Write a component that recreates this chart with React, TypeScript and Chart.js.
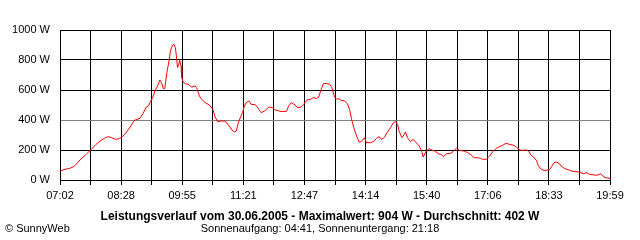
import React, { useEffect, useRef } from "react";
import { Chart, registerables } from "chart.js";

Chart.register(...registerables);

const times: string[] = [
  "07:02","07:09","07:16","07:22","07:27","07:32","07:39","07:46","07:53","08:00",
  "08:06","08:10","08:15","08:20","08:26","08:31","08:36","08:42","08:47","08:55",
  "08:59","09:04","09:07","09:09","09:13","09:16","09:20","09:23","09:26","09:28",
  "09:30","09:33","09:36","09:38","09:41","09:43","09:45","09:47","09:48","09:50",
  "09:51","09:53","09:54","09:56","09:59","10:03","10:08","10:13","10:15","10:19",
  "10:22","10:27","10:33","10:38","10:41","10:45","10:48","10:55","11:00","11:05",
  "11:08","11:11","11:14","11:17","11:20","11:22","11:25","11:29","11:32","11:38",
  "11:42","11:46","11:51","11:57","12:02","12:06","12:11","12:16","12:22","12:25",
  "12:29","12:34","12:38","12:43","12:46","12:51","12:56","13:00","13:04","13:07",
  "13:11","13:14","13:18","13:23","13:26","13:30","13:33","13:36","13:39","13:44",
  "13:48","13:51","13:54","13:57","14:01","14:05","14:09","14:12","14:15","14:21",
  "14:26","14:29","14:33","14:36","14:40","14:44","14:49","14:53","14:56","14:59",
  "15:01","15:05","15:07","15:10","15:13","15:17","15:21","15:25","15:29","15:33",
  "15:35","15:39","15:43","15:48","15:52","15:56","16:00","16:04","16:08","16:13",
  "16:17","16:22","16:26","16:33","16:38","16:43","16:47","16:52","16:56","16:59",
  "17:04","17:09","17:13","17:18","17:23","17:27","17:32","17:37","17:42","17:47",
  "17:51","17:55","18:01","18:04","18:07","18:12","18:15","18:18","18:22","18:26",
  "18:29","18:34","18:37","18:40","18:43","18:47","18:50","18:55","19:00","19:04",
  "19:11","19:18","19:21","19:26","19:30","19:37","19:42","19:46","19:49","19:52",
  "19:59",
];

const watts: number[] = [
  60, 71, 78, 91, 116, 142, 171, 204, 238, 264,
  282, 289, 282, 271, 276, 293, 320, 360, 398, 411,
  442, 487, 493, 516, 549, 593, 627, 667, 642, 609,
  609, 716, 793, 860, 900, 904, 882, 804, 749, 771,
  798, 760, 682, 653, 642, 638, 620, 627, 616, 560,
  538, 516, 500, 471, 420, 387, 393, 393, 367, 333,
  320, 327, 382, 420, 449, 487, 516, 527, 504, 502,
  478, 449, 460, 487, 482, 467, 460, 456, 458, 493,
  516, 500, 482, 487, 504, 533, 538, 549, 544, 549,
  604, 642, 644, 638, 616, 553, 538, 542, 531, 527,
  509, 471, 404, 349, 293, 249, 264, 282, 249, 249,
  260, 278, 289, 271, 282, 316, 349, 382, 389, 371,
  327, 282, 293, 320, 282, 256, 271, 249, 231, 193,
  153, 189, 209, 198, 193, 176, 171, 156, 176, 176,
  189, 211, 198, 193, 182, 167, 149, 149, 144, 138,
  138, 160, 187, 211, 222, 231, 244, 238, 233, 220,
  200, 198, 200, 193, 167, 149, 131, 93, 71, 64,
  64, 71, 93, 116, 120, 111, 93, 76, 69, 60,
  56, 49, 42, 49, 38, 33, 33, 42, 27, 16,
  11,
];

const axisStart = "07:02";
const axisEnd = "19:59";
const gridIntervals = 18;
const yTickValues: number[] = [0, 200, 400, 600, 800, 1000];
const yUnit = "W";

const titleText = "Leistungsverlauf vom 30.06.2005 - Maximalwert: 904 W - Durchschnitt: 402 W";
const subtitleText = "Sonnenaufgang: 04:41, Sonnenuntergang: 21:18";
const creditText = "© SunnyWeb";

const toMin = (s: string) => {
  const [h, m] = s.split(":").map(Number);
  return h * 60 + m;
};
const fmt = (v: number) => {
  const r = Math.round(v);
  return String(Math.floor(r / 60)).padStart(2, "0") + ":" + String(r % 60).padStart(2, "0");
};

const FONT = "'Liberation Sans', Arial, sans-serif";

export default function App() {
  const ref = useRef<HTMLCanvasElement | null>(null);

  useEffect(() => {
    if (!ref.current) return;
    const xMin = toMin(axisStart);
    const xMax = toMin(axisEnd);
    const chart = new Chart(ref.current, {
      type: "line",
      data: {
        datasets: [
          {
            data: times.map((t, i) => ({ x: toMin(t), y: watts[i] })),
            borderColor: "#ff0000",
            borderWidth: 1,
            pointRadius: 0,
            tension: 0,
            fill: false,
          },
        ],
      },
      options: {
        animation: false,
        responsive: false,
        devicePixelRatio: 1,
        layout: { padding: { left: 0, right: 30, top: 30, bottom: 0 } },
        plugins: { legend: { display: false }, tooltip: { enabled: false }, title: { display: false } },
        font: { family: FONT, size: 11 },
        scales: {
          x: {
            type: "linear",
            min: xMin,
            max: xMax,
            afterBuildTicks: (scale: any) => {
              const ticks = [];
              for (let i = 0; i <= gridIntervals; i++) {
                ticks.push({ value: xMin + (i * (xMax - xMin)) / gridIntervals });
              }
              scale.ticks = ticks;
            },
            afterFit: (scale: any) => {
              scale.height = 60;
            },
            ticks: {
              autoSkip: false,
              maxRotation: 0,
              minRotation: 0,
              padding: 4,
              color: "#000000",
              font: { family: FONT, size: 11 },
              callback: (v: any, i: number) => (i % 2 === 0 ? fmt(Number(v)) : ""),
            },
            grid: { color: "#000000", lineWidth: 1, tickLength: 5, drawTicks: true },
            border: { color: "#000000", width: 1 },
          },
          y: {
            min: 0,
            max: 1000,
            afterBuildTicks: (scale: any) => {
              scale.ticks = yTickValues.map((v) => ({ value: v }));
            },
            afterFit: (scale: any) => {
              scale.width = 60;
            },
            ticks: {
              padding: 10,
              color: "#000000",
              font: { family: FONT, size: 11 },
              callback: (v: any) => `${v} ${yUnit}`,
            },
            grid: {
              drawTicks: false,
              lineWidth: 1,
              color: (ctx: any) => (ctx.tick && ctx.tick.value === 400 ? "#808080" : "#000000"),
            },
            border: { color: "#000000", width: 1 },
          },
        },
      },
    } as any);
    return () => chart.destroy();
  }, []);

  const textBase: React.CSSProperties = {
    position: "absolute",
    fontFamily: FONT,
    fontSize: 11,
    lineHeight: "13px",
    color: "#000",
    whiteSpace: "nowrap",
  };

  return (
    <div style={{ position: "absolute", left: 0, top: 0, width: 640, height: 240, background: "#fff" }}>
      <canvas ref={ref} width={640} height={240} style={{ display: "block", width: 640, height: 240 }} />
      <div
        style={{ ...textBase, left: 0, width: 640, top: 209, textAlign: "center", fontWeight: "bold", fontSize: 12, lineHeight: "14px" }}
      >
        {titleText}
      </div>
      <div style={{ ...textBase, left: 0, width: 640, top: 222, textAlign: "center" }}>{subtitleText}</div>
      <div style={{ ...textBase, left: 5, top: 222 }}>{creditText}</div>
    </div>
  );
}
